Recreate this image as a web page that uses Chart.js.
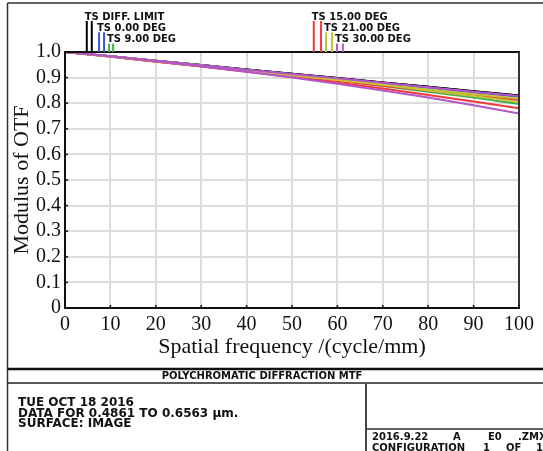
<!DOCTYPE html>
<html>
<head>
<meta charset="utf-8">
<script src="https://cdn.jsdelivr.net/npm/chart.js@4.4.1/dist/chart.umd.min.js"></script>
<style>
  body { margin: 0; background: #fff; }
  #mtf { display: block; }
</style>
</head>
<body>
<canvas id="mtf" width="543" height="451"></canvas>
<script>
// spatial frequency (cycle/mm)
const freq = [0, 10, 20, 30, 40, 50, 60, 70, 80, 90, 100];
const yTicks = [0, 0.1, 0.2, 0.3, 0.4, 0.5, 0.6, 0.7, 0.8, 0.9, 1.0];

// MTF values, T = tangential, S = sagittal
const diffT = [1, 0.983, 0.966, 0.949, 0.932, 0.915, 0.898, 0.881, 0.864, 0.847, 0.830];
const diffS = [1, 0.983, 0.966, 0.949, 0.932, 0.915, 0.898, 0.881, 0.864, 0.847, 0.830];
const deg0T = [1, 0.983, 0.965, 0.948, 0.930, 0.913, 0.896, 0.878, 0.861, 0.843, 0.825];
const deg0S = [1, 0.983, 0.965, 0.948, 0.930, 0.913, 0.896, 0.878, 0.861, 0.843, 0.826];
const deg9T = [1, 0.983, 0.965, 0.947, 0.928, 0.909, 0.889, 0.867, 0.845, 0.822, 0.797];
const deg9S = [1, 0.982, 0.963, 0.945, 0.926, 0.908, 0.889, 0.871, 0.852, 0.834, 0.815];
const deg15T = [1, 0.982, 0.963, 0.943, 0.923, 0.902, 0.880, 0.857, 0.832, 0.807, 0.780];
const deg15S = [1, 0.981, 0.962, 0.944, 0.925, 0.906, 0.887, 0.868, 0.850, 0.831, 0.812];
const deg21T = [1, 0.983, 0.966, 0.948, 0.930, 0.911, 0.892, 0.872, 0.850, 0.828, 0.805];
const deg21S = [1, 0.982, 0.964, 0.945, 0.927, 0.909, 0.891, 0.873, 0.854, 0.836, 0.818];
const deg30T = [1, 0.983, 0.964, 0.944, 0.923, 0.900, 0.876, 0.850, 0.822, 0.792, 0.760];
const deg30S = [1, 0.983, 0.966, 0.948, 0.931, 0.914, 0.897, 0.880, 0.862, 0.845, 0.828];

const fieldNames = ["TS DIFF. LIMIT", "TS 0.00 DEG", "TS 9.00 DEG", "TS 15.00 DEG", "TS 21.00 DEG", "TS 30.00 DEG"];
const fieldColors = ["#000000", "#3a56d4", "#3fb04a", "#f03a3a", "#c4c23a", "#b455c8"];
// where the little T/S legend markers sit on the frequency axis
const markerT = [4.8, 7.5, 9.7, 54.8, 57.5, 59.9];
const markerS = [5.9, 8.6, 10.6, 56.4, 58.8, 61.2];
const markerRow = [0, 1, 2, 0, 1, 2];

const seriesT = [diffT, deg0T, deg9T, deg15T, deg21T, deg30T];
const seriesS = [diffS, deg0S, deg9S, deg15S, deg21S, deg30S];

const datasets = [];
fieldNames.forEach((name, i) => {
    [seriesT[i], seriesS[i]].forEach((vals, k) => {
        datasets.push({
            label: name + (k ? " S" : " T"),
            data: vals.map((v, j) => ({ x: freq[j], y: v })),
            borderColor: fieldColors[i],
            borderWidth: 2,
            pointRadius: 0,
            fill: false
        });
    });
});
// later fields are drawn over earlier ones, like in the original plot
datasets.forEach((d, i) => { d.order = datasets.length - i; });

const zemaxFont = '"DejaVu Sans", sans-serif';

function line(ctx, x1, y1, x2, y2, w, color) {
    ctx.beginPath();
    ctx.lineWidth = w;
    ctx.strokeStyle = color;
    ctx.moveTo(x1, y1);
    ctx.lineTo(x2, y2);
    ctx.stroke();
}

function text(ctx, str, x, y, size, align) {
    ctx.font = "bold " + size + "px " + zemaxFont;
    ctx.fillStyle = "#111";
    ctx.textBaseline = "middle";
    ctx.textAlign = align || "left";
    ctx.fillText(str, x, y);
}

const zemaxFrame = {
    id: "zemaxFrame",
    beforeDraw(chart) {
        const ctx = chart.ctx;
        ctx.save();
        ctx.fillStyle = "#fff";
        ctx.fillRect(0, 0, chart.width, chart.height);
        ctx.restore();
    },
    afterDatasetsDraw(chart) {
        const ctx = chart.ctx;
        const a = chart.chartArea;
        const xs = chart.scales.x, ys = chart.scales.y;
        ctx.save();
        // plot frame: top and right
        line(ctx, a.left - 1, a.top, a.right + 1, a.top, 2, "#111");
        line(ctx, a.right, a.top, a.right, a.bottom, 2, "#333");
        // inward tick marks
        freq.forEach(f => {
            const px = xs.getPixelForValue(f);
            line(ctx, px, a.bottom, px, a.bottom - 3, 1.5, "#111");
        });
        yTicks.forEach(v => {
            const py = ys.getPixelForValue(v);
            line(ctx, a.left, py, a.left + 3, py, 1.5, "#111");
        });
        // field legend markers above the plot
        fieldNames.forEach((name, i) => {
            const ty = 17 + markerRow[i] * 11.3;
            const pT = xs.getPixelForValue(markerT[i]);
            const pS = xs.getPixelForValue(markerS[i]);
            line(ctx, pT, ty + 4, pT, a.top, 2, fieldColors[i]);
            line(ctx, pS, ty + 4, pS, a.top, 2, fieldColors[i]);
            text(ctx, name, pT - 2, ty, 10);
        });
        ctx.restore();
    },
    afterDraw(chart) {
        const ctx = chart.ctx;
        const W = chart.width, H = chart.height;
        ctx.save();
        // outer page frame
        line(ctx, 7.5, 3, W, 3, 1.5, "#333");
        line(ctx, 7.5, 3, 7.5, H, 1.5, "#333");
        // bottom title block
        line(ctx, 7.5, 369, W, 369, 2.5, "#111");
        line(ctx, 7.5, 383, W, 383, 1.5, "#222");
        line(ctx, 366, 383, 366, H, 2, "#444");
        line(ctx, 366, 429, W, 429, 1.5, "#333");
        text(ctx, "POLYCHROMATIC DIFFRACTION MTF", 262, 376, 10, "center");
        text(ctx, "TUE OCT 18 2016", 18, 403, 12);
        text(ctx, "DATA FOR 0.4861 TO 0.6563 \u03bcm.", 18, 413.5, 12);
        text(ctx, "SURFACE: IMAGE", 18, 424, 12);
        text(ctx, "2016.9.22", 372, 437, 10);
        text(ctx, "A", 453, 437, 10);
        text(ctx, "E0", 488, 437, 10);
        text(ctx, ".ZMX", 518, 437, 10);
        text(ctx, "CONFIGURATION", 372, 448, 10);
        text(ctx, "1", 483, 448, 10);
        text(ctx, "OF", 506, 448, 10);
        text(ctx, "1", 536, 448, 10);
        ctx.restore();
    }
};

const serif = "'Liberation Serif', 'Times New Roman', serif";

new Chart(document.getElementById("mtf"), {
    type: "line",
    data: { datasets: datasets },
    options: {
        responsive: false,
        animation: false,
        devicePixelRatio: 1,
        layout: { padding: { left: 0, top: 52, right: 24, bottom: 91 } },
        plugins: {
            legend: { display: false },
            tooltip: { enabled: false }
        },
        scales: {
            x: {
                type: "linear",
                min: 0,
                max: 100,
                afterFit: s => { s.height = 52; },
                afterBuildTicks: s => { s.ticks = freq.map(v => ({ value: v })); },
                grid: { color: "#dcdcdc", lineWidth: 2, drawTicks: false },
                border: { color: "#111", width: 2 },
                ticks: {
                    autoSkip: false,
                    padding: 5,
                    color: "#111",
                    font: { family: serif, size: 20 },
                    maxRotation: 0
                },
                title: {
                    display: true,
                    text: "Spatial frequency /(cycle/mm)",
                    color: "#111",
                    font: { family: serif, size: 22 },
                    padding: 0
                }
            },
            y: {
                min: 0,
                max: 1,
                afterFit: s => { s.width = 65; },
                afterBuildTicks: s => { s.ticks = yTicks.map(v => ({ value: v })); },
                grid: { color: "#dcdcdc", lineWidth: 2, drawTicks: false },
                border: { color: "#111", width: 2 },
                ticks: {
                    autoSkip: false,
                    padding: 4,
                    color: "#111",
                    font: { family: serif, size: 20 },
                    callback: v => v === 0 ? "0" : v.toFixed(1)
                },
                title: {
                    display: true,
                    text: "Modulus of OTF",
                    color: "#111",
                    font: { family: serif, size: 22 },
                    padding: { top: 9, bottom: 0 }
                }
            }
        }
    },
    plugins: [zemaxFrame]
});
</script>
</body>
</html>
